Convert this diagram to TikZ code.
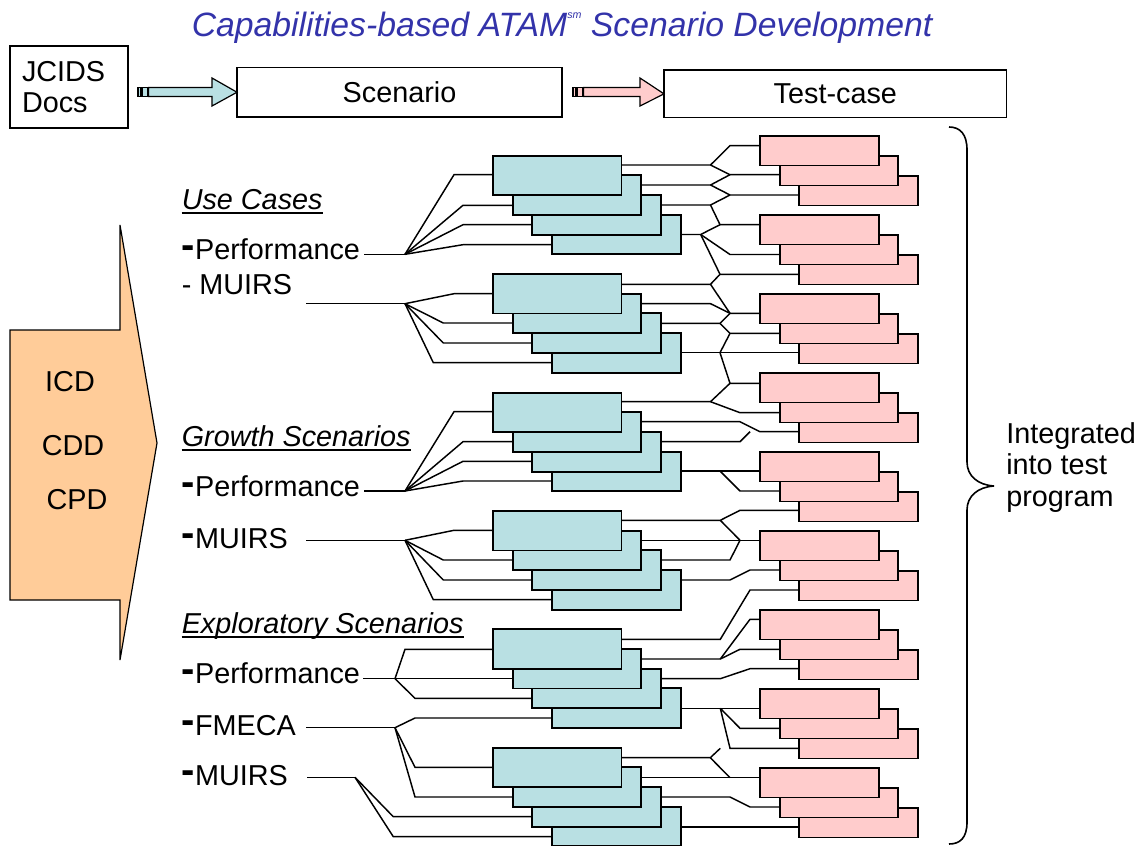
\documentclass[tikz,border=0pt]{standalone}
\usepackage{fontspec}
\setmainfont{Liberation Sans}
\usetikzlibrary{calc}
\pgfdeclarelayer{back}
\pgfdeclarelayer{bg}
\pgfsetlayers{back,bg,main}
\definecolor{tealf}{RGB}{185,224,227}
\definecolor{pinkf}{RGB}{255,204,204}
\definecolor{orangef}{RGB}{255,204,153}
\definecolor{titleblue}{RGB}{51,51,170}
\newcommand\thickdash{\raisebox{0.8pt}{\fontsize{30}{30}\selectfont\bfseries -}}
\begin{document}
\begin{tikzpicture}[x=0.75pt,y=-0.75pt,
  tealbox/.style={draw, line width=1.4pt, fill=tealf, minimum width=96.4pt, minimum height=29.6pt, inner sep=0pt, outer sep=0pt, anchor=north west},
  pinkbox/.style={draw, line width=1.4pt, fill=pinkf, minimum width=89pt, minimum height=22.3pt, inner sep=0pt, outer sep=0pt, anchor=north west},
  topbox/.style={draw, line width=1.1pt, fill=white, inner sep=0pt, outer sep=0pt, font=\fontsize{21.6}{23.6}\selectfont},
  conn/.style={line width=1.1pt},
  lbl/.style={font=\fontsize{21.6}{23.6}\selectfont, inner sep=0pt, anchor=base west},
  ulbl/.style={lbl, font=\fontsize{21.6}{23.6}\selectfont\itshape},
  uline/.style={line width=1.9pt},
  arrowshape/.style={draw, line width=0.9pt}
]
\useasboundingbox (0,0) rectangle (1148,845);
\begin{pgfonlayer}{back}
\fill[white] (0,0) rectangle (1148,845);
\end{pgfonlayer}

% title
\node[inner sep=0pt, anchor=base, text=titleblue, font=\fontsize{25.3}{27}\selectfont\itshape] (title) at (562,37)
  {Capabilities-based ATAM\raisebox{0.55em}{\fontsize{8}{8}\selectfont sm} Scenario Development};

% top row
\node[topbox, text width=70.5pt, align=left, inner xsep=9pt, minimum height=61.5pt, anchor=north west] (jcids) at (10,46) {JCIDS\\Docs};
\node[topbox, minimum width=243.75pt, minimum height=37.1pt, anchor=north west] (scen) at (237,67.5) {Scenario};
\node[topbox, minimum width=257pt, minimum height=35.8pt, anchor=north west] (tcase) at (664,70) {Test-case};

% top arrows
\filldraw[arrowshape, fill=tealf] (138,87.5) rectangle (141,96.5);
\filldraw[arrowshape, fill=tealf] (142.5,87.5) rectangle (147.5,96.5);
\filldraw[arrowshape, fill=tealf] (148.5,87.5) -- (212,87.5) -- (212,78) -- (scen.west) -- (212,106) -- (212,96.5) -- (148.5,96.5) -- cycle;
\filldraw[arrowshape, fill=pinkf] (573,87.5) rectangle (576,96.5);
\filldraw[arrowshape, fill=pinkf] (577.5,87.5) rectangle (582.5,96.5);
\filldraw[arrowshape, fill=pinkf] (583.5,87.5) -- (640,87.5) -- (640,78) -- (tcase.west) -- (640,106) -- (640,96.5) -- (583.5,96.5) -- cycle;

% big left arrow
\filldraw[draw, line width=0.9pt, fill=orangef] (10,330) -- (120,330) -- (120,225) -- (157,443) -- (120,660) -- (120,600) -- (10,600) -- cycle;
\node[lbl, anchor=center] (icd) at (70,382) {ICD};
\node[lbl, anchor=center] (cdd) at (73,446) {CDD};
\node[lbl, anchor=center] (cpd) at (77,500) {CPD};

% left labels
\node[ulbl] (uc) at (181.5,209.3) {Use Cases};
\draw[uline] ([yshift=-2.6pt]uc.base west) -- ([yshift=-2.6pt]uc.base east);
\node[lbl] (uperf) at (181.5,259.3) {\thickdash Performance};
\node[lbl] (umuirs) at (181.5,294) {- MUIRS};
\node[ulbl] (gs) at (181.5,446.5) {Growth Scenarios};
\draw[uline] ([yshift=-2.6pt]gs.base west) -- ([yshift=-2.6pt]gs.base east);
\node[lbl] (gperf) at (181.5,496.3) {\thickdash Performance};
\node[lbl] (gmuirs) at (181.5,548) {\thickdash MUIRS};
\node[ulbl] (es) at (181.5,633.5) {Exploratory Scenarios};
\draw[uline] ([yshift=-2.6pt]es.base west) -- ([yshift=-2.6pt]es.base east);
\node[lbl] (eperf) at (181.5,683.3) {\thickdash Performance};
\node[lbl] (efmeca) at (181.5,735) {\thickdash FMECA};
\node[lbl] (emuirs) at (181.5,785) {\thickdash MUIRS};

% teal boxes
\foreach \T [count=\g] in {155.7,274,392.7,511,629.3,747.7} {
  \foreach \i in {3,2,1,0} {
    \node[tealbox] (g\g b\i) at (493+19.7*\i, \T+19.7*\i) {};
  }
}
% pink boxes
\foreach \P [count=\j] in {135.7,214.7,293.7,372.7,451.7,530.7,609.7,688.7,767.7} {
  \foreach \i in {2,1,0} {
    \node[pinkbox] (p\j b\i) at (760+19.7*\i, \P+20*\i) {};
  }
}

% fan coordinates
\coordinate (a1) at (364,254.3); \coordinate (f1) at (405,254.3);
\coordinate (a2) at (306,303.7); \coordinate (f2) at (405,303.7);
\coordinate (a3) at (364,491);   \coordinate (f3) at (405,491);
\coordinate (a4) at (306,540.3); \coordinate (f4) at (405,540.3);
\coordinate (a5) at (363,678.7); \coordinate (f5) at (395,678.7);
\coordinate (a6) at (306,727.7); \coordinate (f6) at (395,727.7);
\coordinate (a7) at (307,777.3); \coordinate (f7) at (355,777.3);

\begin{pgfonlayer}{bg}
% left fans
\draw[conn] (a1) -- (f1);
\draw[conn] (f1) -- (454,174.7) -- (g1b0.west |- 0,174.7);
\draw[conn] (f1) -- (463,205.3) -- (g1b1.west |- 0,205.3);
\draw[conn] (f1) -- (463,224.7) -- (g1b2.west |- 0,224.7);
\draw[conn] (f1) -- (463,244.7) -- (g1b3.west |- 0,244.7);
\draw[conn] (a2) -- (f2);
\draw[conn] (f2) -- (454,293.7) -- (g2b0.west |- 0,293.7);
\draw[conn] (f2) -- (443.3,323) -- (g2b1.west |- 0,323);
\draw[conn] (f2) -- (443.3,343) -- (g2b2.west |- 0,343);
\draw[conn] (f2) -- (433.3,362.7) -- (g2b3.west |- 0,362.7);
\draw[conn] (a3) -- (f3);
\draw[conn] (f3) -- (454,411.7) -- (g3b0.west |- 0,411.7);
\draw[conn] (f3) -- (463,441.7) -- (g3b1.west |- 0,441.7);
\draw[conn] (f3) -- (463,461.3) -- (g3b2.west |- 0,461.3);
\draw[conn] (f3) -- (463,481) -- (g3b3.west |- 0,481);
\draw[conn] (a4) -- (f4);
\draw[conn] (f4) -- (454,530.3) -- (g4b0.west |- 0,530.3);
\draw[conn] (f4) -- (443.3,560) -- (g4b1.west |- 0,560);
\draw[conn] (f4) -- (443.3,580) -- (g4b2.west |- 0,580);
\draw[conn] (f4) -- (433.3,599.7) -- (g4b3.west |- 0,599.7);
\draw[conn] (a5) -- (f5);
\draw[conn] (f5) -- (405,649.3) -- (g5b0.west |- 0,649.3);
\draw[conn] (f5) -- (g5b1.west |- 0,678.7);
\draw[conn] (f5) -- (415,698.3) -- (g5b2.west |- 0,698.3);
\draw[conn] (a6) -- (f6);
\draw[conn] (f6) -- (415,718) -- (g5b3.west |- 0,718);
\draw[conn] (f6) -- (415,767.3) -- (g6b0.west |- 0,767.3);
\draw[conn] (f6) -- (415,797) -- (g6b1.west |- 0,797);
\draw[conn] (a7) -- (f7);
\draw[conn] (f7) -- (393.3,816.7) -- (g6b2.west |- 0,816.7);
\draw[conn] (f7) -- (393.3,836.7) -- (g6b3.west |- 0,836.7);

% middle connections
\draw[conn] (g1b0.east |- 0,165) -- (710.5,165) -- (730,145.7) -- (p1b0.west |- 0,145.7);
\draw[conn] (710.5,165) -- (730,174.7) -- (p1b1.west |- 0,174.7);
\draw[conn] (g1b1.east |- 0,185) -- (710.5,185) -- (730,174.7);
\draw[conn] (710.5,185) -- (730,195) -- (p1b2.west |- 0,195);
\draw[conn] (g1b2.east |- 0,205) -- (710.5,205) -- (730,195);
\draw[conn] (710.5,205) -- (720,224.7) -- (p2b0.west |- 0,224.7);
\draw[conn] (g1b3.east |- 0,234.5) -- (700.7,234.5) -- (720,224.7);
\draw[conn] (700.7,234.5) -- (730,254.5) -- (p2b1.west |- 0,254.5);
\draw[conn] (700.7,234.5) -- (720,274.3) -- (p2b2.west |- 0,274.3);
\draw[conn] (g2b0.east |- 0,284.3) -- (710.5,284.3) -- (720,274.3);
\draw[conn] (710.5,284.3) -- (730,313.3) -- (p3b0.west |- 0,313.3);
\draw[conn] (g2b1.east |- 0,303.7) -- (710.5,303.7) -- (730,313.3);
\draw[conn] (g2b2.east |- 0,323.3) -- (720,323.3) -- (730,313.3);
\draw[conn] (720,323.3) -- (730,333.3) -- (p3b1.west |- 0,333.3);
\draw[conn] (g2b3.east |- 0,352.7) -- (p3b2.west |- 0,352.7);
\draw[conn] (720,352.7) -- (730,333.3);
\draw[conn] (720,352.7) -- (730,383.3) -- (p4b0.west |- 0,383.3);
\draw[conn] (g3b0.east |- 0,401.7) -- (710.5,401.7) -- (730,383.3);
\draw[conn] (710.5,401.7) -- (740,412.7) -- (p4b1.west |- 0,412.7);
\draw[conn] (g3b1.east |- 0,421.7) -- (740,421.7) -- (760,431.7) -- (p4b2.west |- 0,431.7);
\draw[conn] (g3b2.east |- 0,441.7) -- (740,441.7) -- (750,431.7);
\draw[conn] (g3b3.east |- 0,471) -- (p5b0.west |- 0,471);
\draw[conn] (720,471) -- (740,491) -- (p5b1.west |- 0,491);
\draw[conn] (g4b0.east |- 0,520.3) -- (720.3,520.3) -- (740,510.3) -- (p5b2.west |- 0,510.3);
\draw[conn] (720.3,520.3) -- (740,540.3);
\draw[conn] (g4b1.east |- 0,540.3) -- (p6b0.west |- 0,540.3);
\draw[conn] (g4b2.east |- 0,560) -- (730,560) -- (740,540.3);
\draw[conn] (g4b3.east |- 0,580) -- (730,580) -- (750,570) -- (p6b1.west |- 0,570);
\draw[conn] (g5b0.east |- 0,639.3) -- (720.3,639.3) -- (750,590) -- (p6b2.west |- 0,590);
\draw[conn] (g5b1.east |- 0,659) -- (720.3,659) -- (750,619.3) -- (p7b0.west |- 0,619.3);
\draw[conn] (720.3,659) -- (740,649.3) -- (p7b1.west |- 0,649.3);
\draw[conn] (g5b2.east |- 0,678.7) -- (720.3,678.7) -- (750,668.7) -- (p7b2.west |- 0,668.7);
\draw[conn] (g5b3.east |- 0,708.3) -- (p8b0.west |- 0,708.3);
\draw[conn] (720.3,708.3) -- (740,728.3) -- (p8b1.west |- 0,728.3);
\draw[conn] (720.3,708.3) -- (730,748.3) -- (p8b2.west |- 0,748.3);
\draw[conn] (g6b0.east |- 0,757.7) -- (710.3,757.7) -- (720.3,748.3);
\draw[conn] (710.3,757.7) -- (730,777.7);
\draw[conn] (g6b1.east |- 0,777.7) -- (p9b0.west |- 0,777.7);
\draw[conn] (g6b2.east |- 0,797) -- (730,797) -- (750,807) -- (p9b1.west |- 0,807);
\draw[conn] (g6b3.east |- 0,827) -- (p9b2.west |- 0,827);
\end{pgfonlayer}

% brace
\draw[line width=1.2pt] (949,127) .. controls (960,127) and (967,134) .. (967,150) -- (967,462) .. controls (967,476) and (978,485) .. (994,486) .. controls (978,487) and (967,496) .. (967,510) -- (967,822) .. controls (967,838) and (960,844) .. (949,844);
\node[lbl, anchor=north west, align=left, font=\fontsize{21.6}{23.6}\selectfont] (integ) at (1006,422) {Integrated\\into test\\program};
\end{tikzpicture}
\end{document}
